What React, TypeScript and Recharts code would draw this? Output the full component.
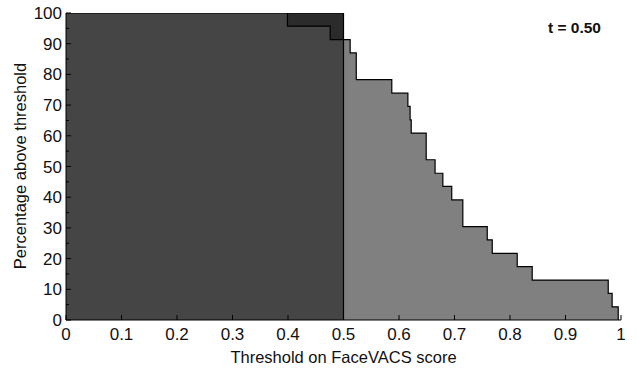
import {
  ComposedChart,
  Area,
  XAxis,
  YAxis,
  ReferenceLine,
  Label,
} from "recharts";

// threshold t and the two score curves (percent of 23 items above threshold)
const threshold = 0.5;
const bandX = [0, 0.5];
const bandPct = [100, 100];
const leftX = [0, 0.399, 0.476, 0.5];
const leftPct = [100, 95.7, 91.3, 91.3];
const rightX = [
  0.5, 0.512, 0.523, 0.587, 0.616, 0.62, 0.622, 0.649, 0.665, 0.679, 0.695,
  0.715, 0.759, 0.768, 0.813, 0.84, 0.977, 0.984, 0.995,
];
const rightPct = [
  91.3, 87.0, 78.3, 73.9, 69.6, 65.2, 60.9, 52.2, 47.8, 43.5, 39.1, 30.4, 26.1,
  21.7, 17.4, 13.0, 8.7, 4.3, 0,
];
const xTicks = [0, 0.1, 0.2, 0.3, 0.4, 0.5, 0.6, 0.7, 0.8, 0.9, 1];
const yTicks = [
  0, 5, 10, 15, 20, 25, 30, 35, 40, 45, 50, 55, 60, 65, 70, 75, 80, 85, 90, 95,
  100,
];

const toRows = (xs: number[], ys: number[]) =>
  xs.map((x, i) => ({ x, y: ys[i] }));

const FONT = "'Liberation Sans', Arial, Helvetica, sans-serif";

// ticks point inward (matlab style)
const XTick = (props: any) => {
  const { x, y, payload } = props;
  const label = payload.value === 0 || payload.value === 1 ? String(payload.value) : payload.value.toFixed(1);
  return (
    <g>
      <line x1={x} x2={x} y1={y} y2={y - 5} stroke="#000" strokeWidth={1} />
      <text x={x} y={y + 20} textAnchor="middle" fontSize={17} fontFamily={FONT} fill="#111">
        {label}
      </text>
    </g>
  );
};

const YTick = (props: any) => {
  const { x, y, payload } = props;
  const major = payload.value % 10 === 0;
  return (
    <g>
      <line x1={x} x2={x + (major ? 5 : 3)} y1={y} y2={y} stroke="#000" strokeWidth={1} />
      {major && (
        <text x={x - 4} y={y + 6} textAnchor="end" fontSize={17} fontFamily={FONT} fill="#111">
          {payload.value}
        </text>
      )}
    </g>
  );
};

export default function App() {
  return (
    <div style={{ position: "absolute", left: 0, top: 0, width: 637, height: 369, background: "#fff" }}>
      <ComposedChart
        width={637}
        height={369}
        margin={{ top: 13, right: 16, bottom: 0, left: 0 }}
      >
        <XAxis
          dataKey="x"
          type="number"
          domain={[0, 1]}
          ticks={xTicks}
          tick={<XTick />}
          tickSize={0}
          tickMargin={0}
          height={49}
          axisLine={{ stroke: "#000", strokeWidth: 1 }}
          allowDataOverflow
        >
          <Label
            value="Threshold on FaceVACS score"
            position="insideBottom"
            offset={6}
            style={{ fontSize: 16.5, fontFamily: FONT, fill: "#111" }}
          />
        </XAxis>
        <YAxis
          type="number"
          domain={[0, 100]}
          ticks={yTicks}
          tick={<YTick />}
          tickSize={0}
          tickMargin={0}
          width={66}
          interval={0}
          axisLine={{ stroke: "#000", strokeWidth: 1 }}
          allowDataOverflow
        >
          <Label
            content={() => (
              <text
                x={26}
                y={166}
                transform="rotate(-90 26 166)"
                textAnchor="middle"
                fontSize={16.5}
                fontFamily={FONT}
                fill="#111"
              >
                Percentage above threshold
              </text>
            )}
          />
        </YAxis>
        <Area
          data={toRows(bandX, bandPct)}
          dataKey="y"
          type="stepAfter"
          fill="#2b2b2b"
          fillOpacity={1}
          stroke="#000"
          strokeWidth={1.2}
          isAnimationActive={false}
        />
        <Area
          data={toRows(leftX, leftPct)}
          dataKey="y"
          type="stepAfter"
          fill="#454545"
          fillOpacity={1}
          stroke="#000"
          strokeWidth={1.2}
          isAnimationActive={false}
        />
        <Area
          data={toRows(rightX, rightPct)}
          dataKey="y"
          type="stepAfter"
          fill="#808080"
          fillOpacity={1}
          stroke="#000"
          strokeWidth={1.2}
          isAnimationActive={false}
        />
        <ReferenceLine x={threshold} stroke="#000" strokeWidth={1.2} />
      </ComposedChart>
      <div
        style={{
          position: "absolute",
          left: 548,
          top: 19,
          fontFamily: FONT,
          fontWeight: "bold",
          fontSize: 15.5,
          color: "#111",
          whiteSpace: "nowrap",
        }}
      >
        t = 0.50
      </div>
    </div>
  );
}
